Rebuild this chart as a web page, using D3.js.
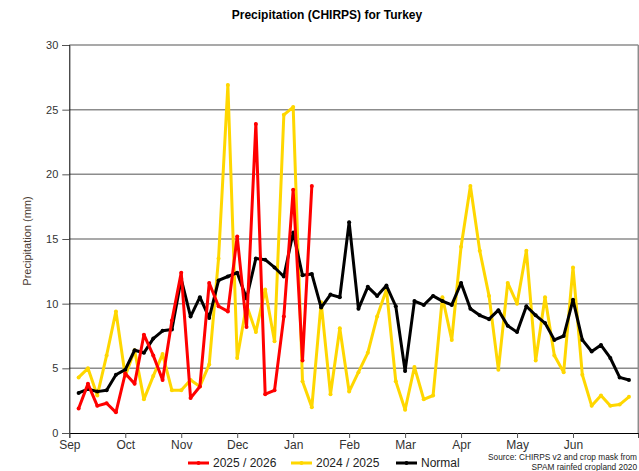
<!DOCTYPE html>
<html>
<head>
    <meta charset="utf-8">
    <style>
        body { margin: 0; background: #fff; }
        svg { display: block; font-family: "Liberation Sans", Arial, sans-serif; }
        .tick text { fill: #333; font-size: 11px; }
        .grid line { stroke: #8c8c8c; stroke-width: 1.5; }
    </style>
</head>
<body>
    <div id="container"></div>
    <script src="https://d3js.org/d3.v7.min.js"></script>
    <script>
        // month labels, one every 6 pentads
        const months = ["Sep", "Oct", "Nov", "Dec", "Jan", "Feb", "Mar", "Apr", "May", "Jun"];
        const yTicks = [0, 5, 10, 15, 20, 25, 30];

        // pentad rainfall (mm), Sep pentad 1 .. Jun pentad 6
        const normal = [3.1, 3.4, 3.2, 3.3, 4.5, 4.9, 6.4, 6.2, 7.3, 7.9,
            8.0, 11.9, 9.0, 10.5, 8.9, 11.8, 12.1, 12.4, 10.4, 13.5,
            13.4, 12.8, 12.1, 15.5, 12.2, 12.3, 9.7, 10.7, 10.5, 16.3,
            9.6, 11.3, 10.6, 11.4, 9.8, 4.8, 10.2, 9.9, 10.6, 10.2,
            9.9, 11.6, 9.6, 9.1, 8.8, 9.5, 8.3, 7.8, 9.8, 9.1,
            8.5, 7.2, 7.5, 10.3, 7.2, 6.3, 6.8, 5.8, 4.3, 4.1];
        const season2425 = [4.3, 5.0, 2.9, 6.0, 9.4, 4.4, 6.4, 2.6, 4.4, 6.1,
            3.3, 3.3, 4.1, 3.6, 5.3, 13.5, 26.9, 5.8, 9.9, 7.8,
            11.1, 7.1, 24.6, 25.2, 4.0, 2.0, 10.1, 3.0, 8.1, 3.2,
            4.7, 6.2, 9.0, 11.1, 4.0, 1.8, 5.1, 2.6, 2.9, 10.5,
            7.2, 14.4, 19.1, 14.1, 10.6, 4.9, 11.6, 10.0, 14.1, 5.6,
            10.5, 6.0, 4.7, 12.8, 4.5, 2.1, 2.9, 2.1, 2.2, 2.8];
        const season2526 = [1.9, 3.8, 2.1, 2.3, 1.6, 4.6, 3.8, 7.6, 6.0, 4.1,
            8.7, 12.4, 2.7, 3.6, 11.6, 9.8, 9.4, 15.2, 8.2, 23.9,
            3.0, 3.3, 9.0, 18.8, 5.6, 19.1];

        const series = [
            { name: "2024 / 2025", color: "#ffd700", values: season2425 },
            { name: "Normal", color: "#000000", values: normal },
            { name: "2025 / 2026", color: "#ff0000", values: season2526 }
        ];
        const legendOrder = ["2025 / 2026", "2024 / 2025", "Normal"];

        const width = 639, height = 471;
        const plotLeft = 69.3, plotRight = 638.3, plotTop = 45, plotBottom = 433;

        const svg = d3.select("#container").append("svg")
            .attr("width", width)
            .attr("height", height);

        const x = d3.scaleLinear().domain([0, 61]).range([plotLeft, plotRight]);
        const y = d3.scaleLinear().domain([0, 30]).range([plotBottom, plotTop]);

        // grid
        svg.append("g").attr("class", "grid")
            .selectAll("line")
            .data(yTicks.filter(d => d > 0))
            .join("line")
            .attr("x1", plotLeft).attr("x2", plotRight)
            .attr("y1", d => y(d)).attr("y2", d => y(d));

        svg.append("line")
            .attr("x1", plotRight).attr("x2", plotRight)
            .attr("y1", plotTop).attr("y2", plotBottom)
            .attr("stroke", "#8c8c8c").attr("stroke-width", 1.5);

        // axes
        const yAxis = svg.append("g")
            .attr("transform", `translate(${plotLeft},0)`)
            .call(d3.axisLeft(y).tickValues(yTicks).tickSize(7).tickPadding(4));
        yAxis.select(".domain").attr("stroke", "#000");
        yAxis.selectAll(".tick line").attr("stroke", "#555");

        const xAxis = svg.append("g")
            .attr("transform", `translate(0,${plotBottom})`)
            .call(d3.axisBottom(x)
                .tickValues(months.map((m, i) => i * 6))
                .tickFormat((d, i) => months[i])
                .tickSize(5).tickPadding(2));
        xAxis.select(".domain").attr("stroke", "#000");
        xAxis.selectAll(".tick line").attr("stroke", "#555");
        xAxis.selectAll(".tick text").style("font-size", "12px");

        // lines
        const line = d3.line()
            .x((d, i) => x(i + 1))
            .y(d => y(d));

        series.forEach(s => {
            const g = svg.append("g");
            g.append("path")
                .datum(s.values)
                .attr("fill", "none")
                .attr("stroke", s.color)
                .attr("stroke-width", 3)
                .attr("stroke-linejoin", "round")
                .attr("d", line);
            g.selectAll("circle")
                .data(s.values)
                .join("circle")
                .attr("cx", (d, i) => x(i + 1))
                .attr("cy", d => y(d))
                .attr("r", 2)
                .attr("fill", s.color);
        });

        // title
        svg.append("text")
            .attr("x", 327).attr("y", 19)
            .attr("text-anchor", "middle")
            .style("font-size", "12px")
            .style("font-weight", "bold")
            .text("Precipitation (CHIRPS) for Turkey");

        // y label
        svg.append("text")
            .attr("transform", "translate(31,241) rotate(-90)")
            .attr("text-anchor", "middle")
            .style("font-size", "11px")
            .attr("fill", "#4a3a30")
            .text("Precipitation (mm)");

        // legend
        const legendX = [188, 291, 396];
        legendOrder.forEach((name, i) => {
            const s = series.find(d => d.name === name);
            const g = svg.append("g").attr("transform", `translate(${legendX[i]},463)`);
            g.append("line")
                .attr("x1", 0).attr("x2", 21)
                .attr("stroke", s.color).attr("stroke-width", 3);
            g.append("circle").attr("cx", 10.5).attr("r", 2).attr("fill", s.color);
            g.append("text")
                .attr("x", 25).attr("y", 4.3)
                .style("font-size", "12px")
                .attr("fill", "#222")
                .text(name);
        });

        // source note
        const note = svg.append("text")
            .attr("text-anchor", "end")
            .style("font-size", "8.3px")
            .attr("fill", "#222");
        note.append("tspan").attr("x", 637).attr("y", 460).text("Source: CHIRPS v2 and crop mask from");
        note.append("tspan").attr("x", 637).attr("y", 469.5).text("SPAM rainfed cropland 2020");
    </script>
</body>
</html>
